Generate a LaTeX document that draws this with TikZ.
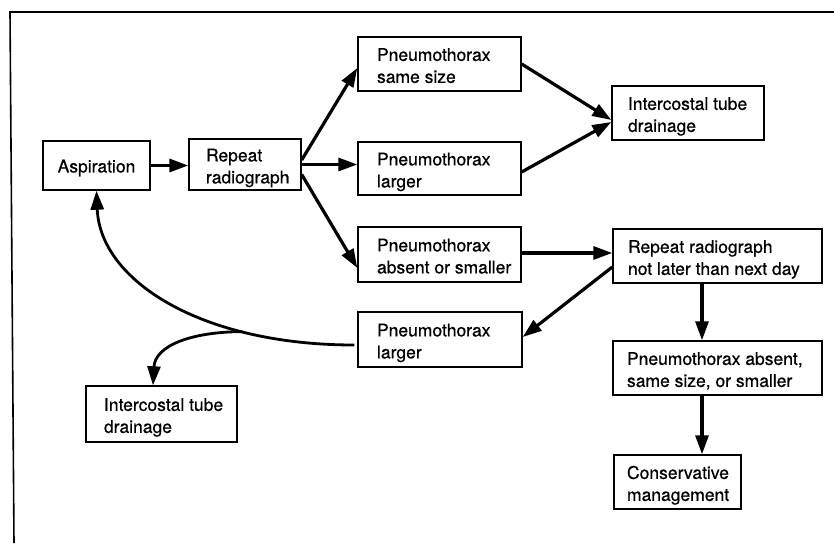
\documentclass[tikz,border=0pt]{standalone}
\usepackage{fontspec}
\setmainfont{TeX Gyre Heros}[FakeBold=0.6]
\usetikzlibrary{arrows.meta,calc}
\newcommand\bxt[3]{\raisebox{-3.5pt}[\height][\depth]{\makebox[#1pt][l]{\hspace*{#2pt}\begin{tabular}{@{}l@{}}#3\end{tabular}}}}
\begin{document}
\begin{tikzpicture}[x=1pt,y=-1pt,
  box/.style={draw, line width=1.4pt, inner sep=0pt, font=\fontsize{17.5pt}{22pt}\selectfont},
  arr/.style={line width=3.2pt, -{Triangle[length=19pt,width=13pt]}},
  curv/.style={line width=2.8pt, -{Triangle[length=19pt,width=13pt]}}]
\useasboundingbox (0,0) rectangle (834,543);
% partial frame
\draw[line width=1.6pt] (834,12) -- (10,12) -- (14,543);
% boxes
\node[box, minimum height=49pt] (asp) at (96.5,165.5) {\raisebox{-2.5pt}[\height][\depth]{\makebox[107pt][c]{Aspiration}}};
\node[box, minimum height=51pt] (rr) at (245,164.5) {\bxt{112}{17}{Repeat\\radiograph}};
\node[box, minimum height=54pt] (pss) at (439.5,64) {\bxt{163}{19}{Pneumothorax\\same size}};
\node[box, minimum height=53pt] (pl) at (439.5,168.5) {\bxt{163}{19}{Pneumothorax\\larger}};
\node[box, minimum height=55pt] (pas) at (439.5,254.5) {\bxt{163}{19}{Pneumothorax\\absent or smaller}};
\node[box, minimum height=54pt] (itd1) at (688,113) {\bxt{152}{16}{Intercostal tube\\drainage}};
\node[box, minimum height=54pt] (rnd) at (717.5,256) {\bxt{209}{15}{Repeat radiograph\\not later than next day}};
\node[box, minimum height=55pt] (pl2) at (440,339.5) {\bxt{164}{19}{Pneumothorax\\larger}};
\node[box, minimum height=54pt] (pass) at (717.5,368) {\bxt{209}{14}{Pneumothorax absent,\\same size, or smaller}};
\node[box, minimum height=54pt] (cm) at (677.5,482) {\bxt{127}{13}{Conservative\\management}};
\node[box, minimum height=56pt] (itd2) at (161.5,414) {\bxt{151}{18}{Intercostal tube\\drainage}};
% connectors
\draw[arr] (asp.east) -- (asp.east -| rr.west);
\draw[arr] ([yshift=4.5pt]rr.east) -- ([yshift=-4pt]pss.west);
\draw[arr] (rr.east) -- (rr.east -| pl.west);
\draw[arr] ([yshift=-10pt]rr.east) -- ([yshift=-13.5pt]pas.west);
\draw[arr] (pss.east) -- ([yshift=-7pt]itd1.west);
\draw[arr] ([yshift=-3.5pt]pl.east) -- ([yshift=-9pt]itd1.west);
\draw[arr] ([yshift=1.5pt]pas.east) -- ([yshift=1.5pt]pas.east -| rnd.west);
\draw[arr] ([yshift=-11pt]rnd.west) -- ([yshift=2.5pt]pl2.east);
\draw[arr] ([xshift=-15.5pt]rnd.south) -- ([xshift=-15.5pt]pass.north);
\draw[arr] ([xshift=-15.5pt]pass.south) -- ([xshift=-15.5pt]pass.south |- cm.north);
\draw[curv] ([xshift=-3pt,yshift=-5.5pt]pl2.west) .. controls (200,345) and (100,280) .. coordinate[pos=0.27] (br) (asp.south);
\draw[curv] (br) .. controls (190,332) and (155,346) .. ([xshift=-8.5pt]itd2.north);
\end{tikzpicture}
\end{document}
